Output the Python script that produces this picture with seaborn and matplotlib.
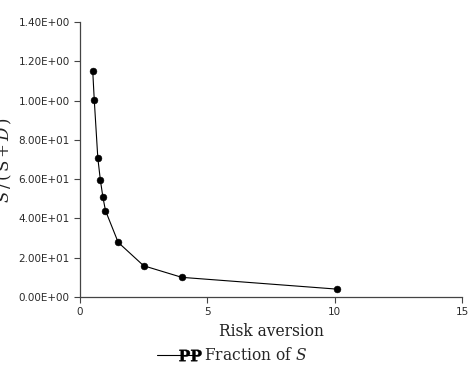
import numpy as np
import pandas as pd
import matplotlib
matplotlib.use("Agg")
import matplotlib.pyplot as plt
import seaborn as sns
from matplotlib.lines import Line2D
from matplotlib.legend_handler import HandlerLine2D

# values
risk_aversion = [0.5, 0.56, 0.7, 0.8, 0.9, 1.0, 1.5, 2.5, 4.0, 10.1]
fraction_s = [1.15, 1.003, 0.707, 0.595, 0.508, 0.44, 0.278, 0.159, 0.10, 0.04]
ytick_vals = [0.0, 0.2, 0.4, 0.6, 0.8, 1.0, 1.2, 1.4]
ytick_labels = ["0.00E+00", "2.00E+01", "4.00E+01", "6.00E+01",
                "8.00E+01", "1.00E+00", "1.20E+00", "1.40E+00"]
xtick_vals = [0, 5, 10, 15]

df = pd.DataFrame({"x": risk_aversion, "y": fraction_s})


class RightMarker(HandlerLine2D):
    # legend line with its marker near the right end
    def create_artists(self, legend, orig_handle, xdescent, ydescent,
                       width, height, fontsize, trans):
        y = height / 2 - ydescent
        line = Line2D([-xdescent, -xdescent + width], [y, y])
        self.update_prop(line, orig_handle, legend)
        line.set_marker("None")
        mk = Line2D([-xdescent + 0.78 * width], [y])
        self.update_prop(mk, orig_handle, legend)
        mk.set_linestyle("None")
        line.set_transform(trans)
        mk.set_transform(trans)
        return [line, mk]


sns.set_style("ticks")
plt.rcParams["mathtext.fontset"] = "dejavuserif"

fig = plt.figure(figsize=(4.74, 3.79), dpi=100)
ax = fig.add_axes([80 / 474, 1 - 297 / 379, 382 / 474, 275 / 379])

sns.lineplot(data=df, x="x", y="y", ax=ax, color="black", linewidth=0.8)
sns.scatterplot(data=df, x="x", y="y", ax=ax, color="black", s=24,
                edgecolor="black", zorder=3)

ax.set_xlim(0, 15)
ax.set_ylim(0, 1.4)
ax.set_xticks(xtick_vals)
ax.set_yticks(ytick_vals)
ax.set_yticklabels(ytick_labels)
ax.tick_params(labelsize=7.5, length=4, width=0.8, colors="#444444",
               labelcolor="#2a2a2a")
for sp in ["left", "bottom"]:
    ax.spines[sp].set_color("#444444")
    ax.spines[sp].set_linewidth(0.9)
sns.despine(ax=ax)

ax.set_xlabel("Risk aversion", family="DejaVu Serif", fontsize=11.2,
              color="#222222")
ax.set_ylabel(r"$S\,/\,(\,\mathrm{S}+D\,)$", fontsize=12, color="#222222")
ax.yaxis.set_label_coords(-0.172, 0.5)

handle = Line2D([0], [0], color="black", linewidth=0.8,
                marker=r"$\mathbf{PP}$", markersize=16,
                markeredgewidth=0.3)
fig.legend([handle], [r"Fraction of $S$"], loc="center",
           bbox_to_anchor=(232 / 474, 1 - 356 / 379), frameon=False,
           prop={"family": "DejaVu Serif", "size": 11.2},
           handlelength=2.7, handletextpad=0.3,
           handler_map={Line2D: RightMarker()})

fig.savefig("out.png", dpi=100)
